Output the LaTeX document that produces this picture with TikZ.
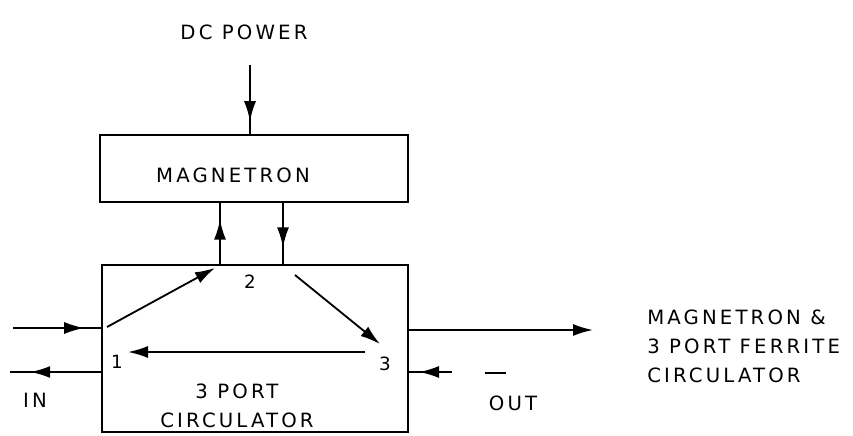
\documentclass[tikz,border=0pt]{standalone}
\usepackage{fontspec}
\setsansfont{DejaVu Sans}[LetterSpace=16]
\usetikzlibrary{arrows.meta,decorations.markings}

\tikzset{
    BOX/.style={draw=black, line width=2pt, shape=rectangle, inner sep=0mm},
    LABEL/.style={inner sep=0mm, align=center, font={\sffamily\fontsize{14}{20.5}\selectfont}},
    PORT/.style={LABEL, font={\sffamily\fontsize{13}{14}\selectfont}},
    EDGE/.style={draw=black, line width=1.3pt},
    TIP/.style={-{Latex[length=5mm,width=3mm]}},
    MID_ARROW/.style={EDGE, postaction={decorate},
        decoration={markings, mark=at position #1 with
            {\arrow{Latex[length=5mm,width=3mm]}}}},
}
\pgfdeclarelayer{edgelayer}
\pgfdeclarelayer{nodelayer}
\pgfsetlayers{edgelayer,nodelayer,main}

\begin{document}
\begin{tikzpicture}[x=0.025cm, y=-0.025cm]
    \useasboundingbox (0,0) rectangle (853,435);
    \begin{pgfonlayer}{nodelayer}
        \node [LABEL] (dc) at (244, 32) {DC POWER};
        \coordinate (dcin) at (250, 65);
        \node [BOX, minimum width=7.7cm, minimum height=1.675cm] (mag) at (254, 168.5) {};
        \node [LABEL] (magtext) at (233, 175) {MAGNETRON};
        \node [BOX, minimum width=7.65cm, minimum height=4.175cm] (circ) at (255, 348.5) {};
        \node [PORT] (n2) at (250, 282) {2};
        \node [PORT] (n1) at (117, 362) {1};
        \node [PORT] (n3) at (385, 364) {3};
        \node [LABEL] (circtext) at (237, 406) {3 PORT\\CIRCULATOR};
        \node [LABEL] (in) at (35, 400) {IN};
        \node [LABEL] (out) at (513, 403) {OUT};
        \node [LABEL, anchor=west, align=left] (note) at (647, 346)
            {MAGNETRON \&\\3 PORT FERRITE\\CIRCULATOR};
        \coordinate (p1) at (107, 327);
        \coordinate (p2a) at (215, 268);
        \coordinate (p2b) at (295, 275);
        \coordinate (p3) at (380, 344);
        \coordinate (p3b) at (365, 352);
        \coordinate (p1b) at (128, 352);
        \coordinate (magl) at (220, 202);
        \coordinate (circl) at (220, 265);
        \coordinate (magr) at (283, 202);
        \coordinate (circr) at (283, 265);
        \coordinate (inA) at (13, 328);
        \coordinate (inB) at (102, 328);
        \coordinate (refA) at (102, 372);
        \coordinate (refB) at (10, 372);
        \coordinate (outA) at (408, 330);
        \coordinate (outB) at (593, 330);
        \coordinate (backA) at (452, 372);
        \coordinate (backB) at (408, 372);
        \coordinate (barA) at (485, 373);
        \coordinate (barB) at (506, 373);
    \end{pgfonlayer}
    \begin{pgfonlayer}{edgelayer}
        \draw[MID_ARROW=0.82] (dcin) to (mag.north -| dcin);
        \draw[MID_ARROW=0.72] (circl) to (magl);
        \draw[MID_ARROW=0.72] (magr) to (circr);
        \draw[EDGE, TIP] (p1) to (p2a);
        \draw[EDGE, TIP] (p2b) to (p3);
        \draw[EDGE, TIP] (p3b) to (p1b);
        \draw[MID_ARROW=0.8] (inA) to (inB);
        \draw[MID_ARROW=0.78] (refA) to (refB);
        \draw[EDGE, TIP] (outA) to (outB);
        \draw[MID_ARROW=0.75] (backA) to (backB);
        \draw[EDGE] (barA) to (barB);
    \end{pgfonlayer}
\end{tikzpicture}
\end{document}
